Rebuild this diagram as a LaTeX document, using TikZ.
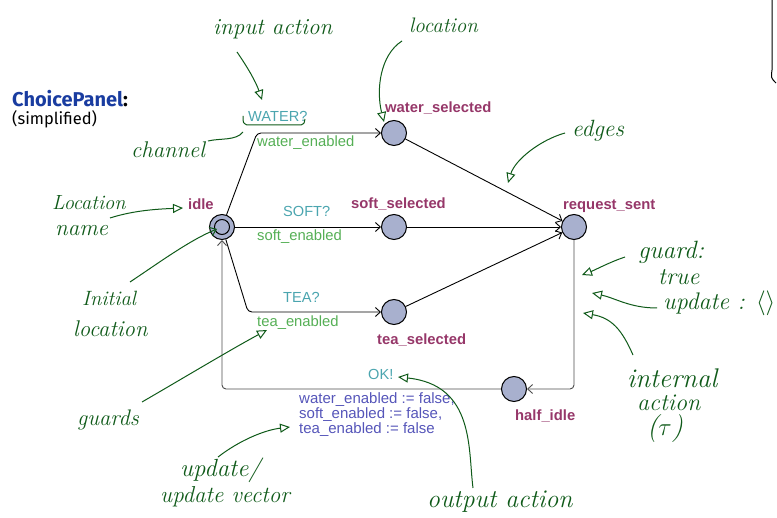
\documentclass[tikz,border=0pt]{standalone}
\usepackage{fontspec}
\newfontfamily\labelfont{Liberation Sans}
\newfontfamily\titlefont{Fira Sans}
\usetikzlibrary{arrows.meta}
\definecolor{locc}{RGB}{150,55,105}
\definecolor{syncc}{RGB}{75,165,175}
\definecolor{guardc}{RGB}{85,175,85}
\definecolor{updc}{RGB}{85,85,185}
\definecolor{titlec}{RGB}{25,60,160}
\definecolor{nodefill}{RGB}{168,176,206}
\definecolor{handc}{RGB}{15,90,25}
\tikzset{
  loc/.style={circle, draw=black, fill=nodefill, minimum size=25pt, inner sep=0pt, line width=1pt},
  lname/.style={font=\labelfont\bfseries\fontsize{14.8}{16}\selectfont, text=locc, inner sep=0pt, anchor=west},
  sync/.style={font=\labelfont\fontsize{14.6}{16}\selectfont, text=syncc, inner sep=0pt, anchor=west},
  grd/.style={font=\labelfont\fontsize{14.8}{16}\selectfont, text=guardc, inner sep=0pt, anchor=west},
  upd/.style={font=\labelfont\fontsize{15}{15}\selectfont, text=updc, inner sep=0pt, anchor=north west, align=left},
  edge/.style={draw=black, line width=0.9pt, -{Straight Barb[length=5pt,width=9pt]}, rounded corners=4pt},
  hand/.style={font=\itshape\fontsize{#1}{#1}\selectfont, text=handc, inner sep=0pt, anchor=west},
  hand/.default=22,
  harrow/.style={draw=handc, line width=1pt, -{Triangle[open,length=10pt,width=9pt,fill=white]}},
  hline/.style={draw=handc, line width=1pt},
}
\begin{document}
\begin{tikzpicture}[x=1pt,y=-1pt]
\useasboundingbox (0,0) rectangle (777,518);
% locations
\node[loc] (idle) at (222,227) {};
\node[circle, draw=black, line width=1pt, minimum size=15pt, inner sep=0pt] (idlein) at (222,227) {};
\node[loc] (ws) at (394,133) {};
\node[loc] (ss) at (394,227) {};
\node[loc] (ts) at (394,312) {};
\node[loc] (rs) at (574,227) {};
\node[loc] (hi) at (514,389) {};
% location names
\node[lname] (nidle) at (188,204) {idle};
\node[lname] (nws) at (385,108) {water\_selected};
\node[lname] (nss) at (351,204) {soft\_selected};
\node[lname] (nrs) at (563,206) {request\_sent};
\node[lname] (nts) at (377,340) {tea\_selected};
\node[lname] (nhi) at (515,416) {half\_idle};
% edges
\draw[edge] (idle) -- (257,133) -- (ws);
\draw[edge] (idle) -- (ss);
\draw[edge] (idle) -- (248,312) -- (ts);
\draw[edge] (ws) -- (rs);
\draw[edge] (ss) -- (rs);
\draw[edge] (ts) -- (rs);
\draw[edge, draw=black!70] (rs) -- (574,389) -- (hi);
\draw[edge, draw=black!70] (hi) -- (222,389) -- (idle);
% edge labels
\node[sync] (swater) at (248,116) {WATER?};
\node[grd] (gwater) at (257,143) {water\_enabled};
\node[sync] (ssoft) at (283,211) {SOFT?};
\node[grd] (gsoft) at (257,237) {soft\_enabled};
\node[sync] (stea) at (283,297) {TEA?};
\node[grd] (gtea) at (257,323) {tea\_enabled};
\node[sync] (sok) at (368,374) {OK!};
\node[upd] (update) at (299,392) {water\_enabled := false,\\soft\_enabled := false,\\tea\_enabled := false};
% title
\node[font=\titlefont\bfseries\fontsize{20}{22}\selectfont, text=titlec, inner sep=0pt, anchor=west] (title) at (12,99) {ChoicePanel\textcolor{black}{:}};
\node[font=\titlefont\fontsize{16.5}{18}\selectfont, inner sep=0pt, anchor=west] (sub) at (12,119) {(simplified)};
% handwritten annotations
\node[hand=23] (hinput) at (213,29) {input action};
\draw[harrow] (237,52) .. controls (248,68) and (256,82) .. (262,100);
\node[hand=21] (hloc) at (409,25) {location};
\draw[harrow] (402,41) .. controls (380,55) and (376,90) .. (384,122);
\node[hand=22.7] (hchan) at (131,150) {channel};
\draw[hline] (243,116) .. controls (243,123) .. (247,125) -- (301,125) .. controls (304,124) .. (305,119);
\draw[hline] (243,132) .. controls (236,141) and (220,138) .. (208,141);
\node[hand=20.5] (hlocn1) at (52,203) {Location};
\node[hand=23] (hlocn2) at (55,231) {name};
\draw[harrow] (110,218) .. controls (135,210) and (160,209) .. (183,208);
\node[hand=20.7] (hinit1) at (82,298) {Initial};
\node[hand=22.7] (hinit2) at (73,329) {location};
\draw[hline, -{Straight Barb[length=6pt,width=9pt]}] (130,282) .. controls (160,262) and (190,240) .. (217,229);
\node[hand=23.5] (hedges) at (572,131) {edges};
\draw[harrow] (565,133) .. controls (540,140) and (515,160) .. (508,183);
\node[hand=22.5] (hguards) at (77,420) {guards};
\draw[harrow] (142,402) .. controls (180,380) and (230,350) .. (267,330);
\node[hand=24.8] (hupd1) at (180,470) {update/};
\node[hand=23] (hupd2) at (160,497) {update vector};
\draw[harrow] (218,457) .. controls (240,440) and (265,430) .. (290,427);
\node[hand=25.6] (hout) at (427,502) {output action};
\draw[harrow] (473,488) .. controls (468,450) and (475,385) .. (398,377);
\node[hand=25] (hguard) at (638,252) {guard:};
\node[hand=24] (htrue) at (658,277) {true};
\draw[harrow] (625,257) .. controls (610,262) and (595,270) .. (582,275);
\node[hand=24] (hupdate) at (663,303) {update : $\langle\rangle$};
\draw[harrow] (657,308) .. controls (630,308) and (615,298) .. (592,293);
\node[hand=27] (hint1) at (627,378) {internal};
\node[hand=24] (hint2) at (637,403) {action};
\node[hand=28] (hint3) at (647,429) {($\tau$)};
\draw[harrow] (633,355) .. controls (622,330) and (612,318) .. (583,313);
% top right mark
\draw[line width=1pt] (772,0) -- (772,70) .. controls (771,78) .. (776,83);
\end{tikzpicture}
\end{document}
